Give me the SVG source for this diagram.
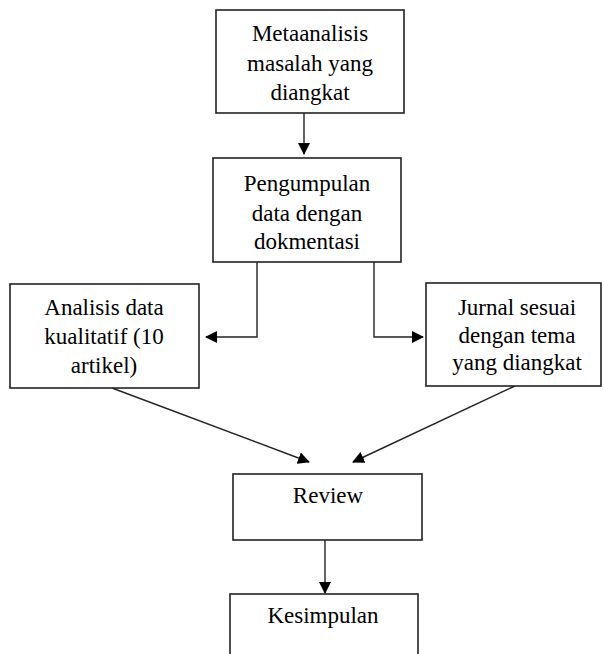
<svg xmlns="http://www.w3.org/2000/svg" width="604" height="654" viewBox="0 0 604 654">
<style>
.box{fill:#fff;stroke:#222;stroke-width:1.6}
.t{font-family:"Liberation Serif","Times New Roman",serif;font-size:23px;fill:#000;text-anchor:middle}
.c{fill:none;stroke:#222;stroke-width:1.4}
</style>
<defs>
<marker id="ah" markerUnits="userSpaceOnUse" markerWidth="12" markerHeight="12" refX="11" refY="6" orient="auto">
<path d="M0,0 L12,6 L0,12 z" fill="#000"/>
</marker>
</defs>
<rect width="604" height="654" fill="#fff"/>
<g id="connectors">
<line class="c" x1="304" y1="113" x2="304" y2="154" marker-end="url(#ah)"/>
<polyline class="c" points="257,262 257,337 206,337" marker-end="url(#ah)"/>
<polyline class="c" points="374,262 374,337 423,337" marker-end="url(#ah)"/>
<line class="c" x1="112" y1="388" x2="309" y2="462" marker-end="url(#ah)"/>
<line class="c" x1="515" y1="386" x2="353" y2="462" marker-end="url(#ah)"/>
<line class="c" x1="325" y1="540" x2="325" y2="593" marker-end="url(#ah)"/>
</g>
<g id="n1">
<rect class="box" x="216" y="10" width="188" height="103"/>
<text class="t" x="310" y="41">Metaanalisis</text>
<text class="t" x="310" y="71">masalah yang</text>
<text class="t" x="310" y="100">diangkat</text>
</g>
<g id="n2">
<rect class="box" x="213" y="158" width="188" height="104"/>
<text class="t" x="307" y="191">Pengumpulan</text>
<text class="t" x="307" y="221">data dengan</text>
<text class="t" x="307" y="249">dokmentasi</text>
</g>
<g id="n3">
<rect class="box" x="10" y="284" width="189" height="104"/>
<text class="t" x="104" y="315">Analisis data</text>
<text class="t" x="104" y="344">kualitatif (10</text>
<text class="t" x="104" y="373">artikel)</text>
</g>
<g id="n4">
<rect class="box" x="426" y="283" width="175" height="103"/>
<text class="t" x="517" y="315">Jurnal sesuai</text>
<text class="t" x="517" y="343">dengan tema</text>
<text class="t" x="517" y="370">yang diangkat</text>
</g>
<g id="n5">
<rect class="box" x="233" y="474" width="189" height="66"/>
<text class="t" x="328" y="503">Review</text>
</g>
<g id="n6">
<rect class="box" x="230" y="594" width="188" height="70"/>
<text class="t" x="323" y="623">Kesimpulan</text>
</g>
</svg>
